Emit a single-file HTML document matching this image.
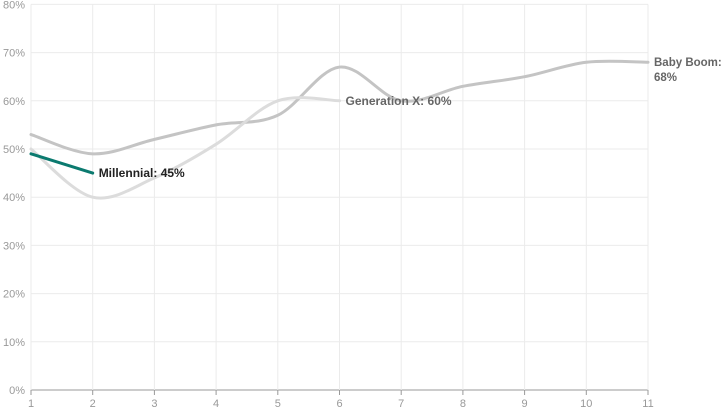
<!DOCTYPE html>
<html><head><meta charset="utf-8"><style>
html,body{margin:0;padding:0;background:#fff;}
svg{display:block;font-family:"Liberation Sans",Arial,sans-serif;}
</style></head><body>
<svg id="chart" xmlns="http://www.w3.org/2000/svg" width="724" height="408">
<g id="grid"></g>
<g id="axes"></g>
<g id="lines"></g>
<g id="labels"></g>
</svg>
<script>
var xTicks=[1,2,3,4,5,6,7,8,9,10,11];
var yTicks=[0,10,20,30,40,50,60,70,80];
var yTickLabels=["0%","10%","20%","30%","40%","50%","60%","70%","80%"];
var babyBoomX=[1,2,3,4,5,6,7,8,9,10,11];
var babyBoom=[53,49,52,55,57,67,60,63,65,68,68];
var genXX=[1,2,3,4,5,6];
var genX=[50,40,44,51,60,60];
var millX=[1,2];
var mill=[49,45];

function sx(v){return 31+(v-1)*61.7;}
function sy(v){return 390-v*4.82;}

var gridHtml='';
var axesHtml='';
for(var i=0;i<yTicks.length;i++){
  var t=yTicks[i];
  var yy=sy(t);
  gridHtml+='<line x1="31" x2="648" y1="'+yy+'" y2="'+yy+'" stroke="'+(t===0?'#999':'#ebebeb')+'" stroke-width="1"/>';
  axesHtml+='<text x="25" y="'+(yy+4)+'" text-anchor="end" font-size="11" fill="#999">'+yTickLabels[i]+'</text>';
}
for(var j=0;j<xTicks.length;j++){
  var xv=sx(xTicks[j]);
  gridHtml+='<line x1="'+xv+'" x2="'+xv+'" y1="'+sy(80)+'" y2="'+sy(0)+'" stroke="#ebebeb" stroke-width="1"/>';
  axesHtml+='<line x1="'+xv+'" x2="'+xv+'" y1="390" y2="395" stroke="#999"/>';
  axesHtml+='<text x="'+xv+'" y="407" text-anchor="middle" font-size="11" fill="#999">'+xTicks[j]+'</text>';
}
document.getElementById('grid').innerHTML=gridHtml;
document.getElementById('axes').innerHTML=axesHtml;

function curve(xs,vs){
  var p=[];
  for(var i=0;i<xs.length;i++){p.push([sx(xs[i]),sy(vs[i])]);}
  var d='M'+p[0][0]+','+p[0][1];
  for(var k=0;k<p.length-1;k++){
    var p0=k>0?p[k-1]:p[k],p1=p[k],p2=p[k+1],p3=(k+2<p.length)?p[k+2]:p[k+1];
    var c1x=p1[0]+(p2[0]-p0[0])/6,c1y=p1[1]+(p2[1]-p0[1])/6;
    var c2x=p2[0]-(p3[0]-p1[0])/6,c2y=p2[1]-(p3[1]-p1[1])/6;
    d+=' C'+c1x+','+c1y+' '+c2x+','+c2y+' '+p2[0]+','+p2[1];
  }
  return d;
}
var linesHtml='';
linesHtml+='<path d="'+curve(babyBoomX,babyBoom)+'" fill="none" stroke="#c4c4c4" stroke-width="3" stroke-linecap="round"/>';
linesHtml+='<path d="'+curve(genXX,genX)+'" fill="none" stroke="#dcdcdc" stroke-width="3" stroke-linecap="round"/>';
linesHtml+='<path d="'+curve(millX,mill)+'" fill="none" stroke="#0b7a6f" stroke-width="3" stroke-linecap="round"/>';
document.getElementById('lines').innerHTML=linesHtml;

var bbL=babyBoom[babyBoom.length-1], gxL=genX[genX.length-1], mL=mill[mill.length-1];
var bx=sx(babyBoomX[babyBoomX.length-1])+6, by=sy(bbL)+4;
var labelsHtml='';
labelsHtml+='<text x="'+bx+'" y="'+by+'" font-size="11.5" font-weight="bold" fill="#666"><tspan x="'+bx+'">Baby Boom:</tspan><tspan x="'+bx+'" dy="15">'+bbL+'%</tspan></text>';
labelsHtml+='<text x="'+(sx(genXX[genXX.length-1])+6)+'" y="'+(sy(gxL)+4)+'" font-size="12" font-weight="bold" fill="#666">Generation X: '+gxL+'%</text>';
labelsHtml+='<text x="'+(sx(millX[millX.length-1])+6)+'" y="'+(sy(mL)+4)+'" font-size="12" font-weight="bold" fill="#222">Millennial: '+mL+'%</text>';
document.getElementById('labels').innerHTML=labelsHtml;
</script>
</body></html>
